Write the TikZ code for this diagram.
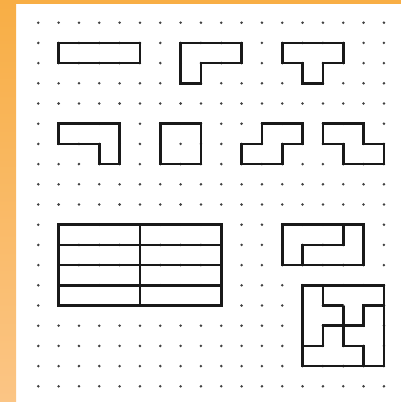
\documentclass[tikz,border=0pt]{standalone}
\begin{document}
\begin{tikzpicture}[x=1pt,y=-1pt,
  piece/.style={line width=2.5pt,draw=black!90,line join=miter},
  inner/.style={line width=2.5pt,draw=black!90}]
\definecolor{orA}{HTML}{F8AE45}
\definecolor{orB}{HTML}{FBC585}
\useasboundingbox (0,0) rectangle (401,402);
\fill[white] (0,0) rectangle (401,402);
\shade[top color=orA,bottom color=orB] (0,0) rectangle (16,402);
\fill[orA] (0,0) rectangle (401,4);
\begin{scope}[shift={(38.3,22.7)},x=20.33pt,y=-20.2pt]
  \foreach \i in {0,...,17}{
    \foreach \j in {0,...,18}{
      \fill[black!75] (\i,\j) circle[radius=1.4pt];
    }
  }
  % row 1
  \draw[piece] (1,1) rectangle (5,2);
  \draw[piece] (7,1)--(10,1)--(10,2)--(8,2)--(8,3)--(7,3)--cycle;
  \draw[piece] (12,1)--(15,1)--(15,2)--(14,2)--(14,3)--(13,3)--(13,2)--(12,2)--cycle;
  % row 2
  \draw[piece] (1,5)--(4,5)--(4,7)--(3,7)--(3,6)--(1,6)--cycle;
  \draw[piece] (6,5) rectangle (8,7);
  \draw[piece] (10,7)--(12,7)--(12,6)--(13,6)--(13,5)--(11,5)--(11,6)--(10,6)--cycle;
  \draw[piece] (14,5)--(16,5)--(16,6)--(17,6)--(17,7)--(15,7)--(15,6)--(14,6)--cycle;
  % big rectangle
  \draw[piece] (1,10) rectangle (9,14);
  \foreach \r in {11,12,13}{ \draw[inner] (1,\r)--(9,\r); }
  \draw[inner] (5,10)--(5,14);
  % two L's
  \draw[piece] (12,10) rectangle (16,12);
  \draw[inner] (15,10)--(15,11)--(13,11)--(13,12);
  % four T's
  \draw[piece] (13,13) rectangle (17,17);
  \draw[inner] (14,13)--(14,14)--(15,14);
  \draw[inner] (15,14)--(15,16)--(16,16)--(16,17);
  \draw[inner] (17,14)--(16,14)--(16,15)--(14,15)--(14,16)--(13,16);
\end{scope}
\end{tikzpicture}
\end{document}
